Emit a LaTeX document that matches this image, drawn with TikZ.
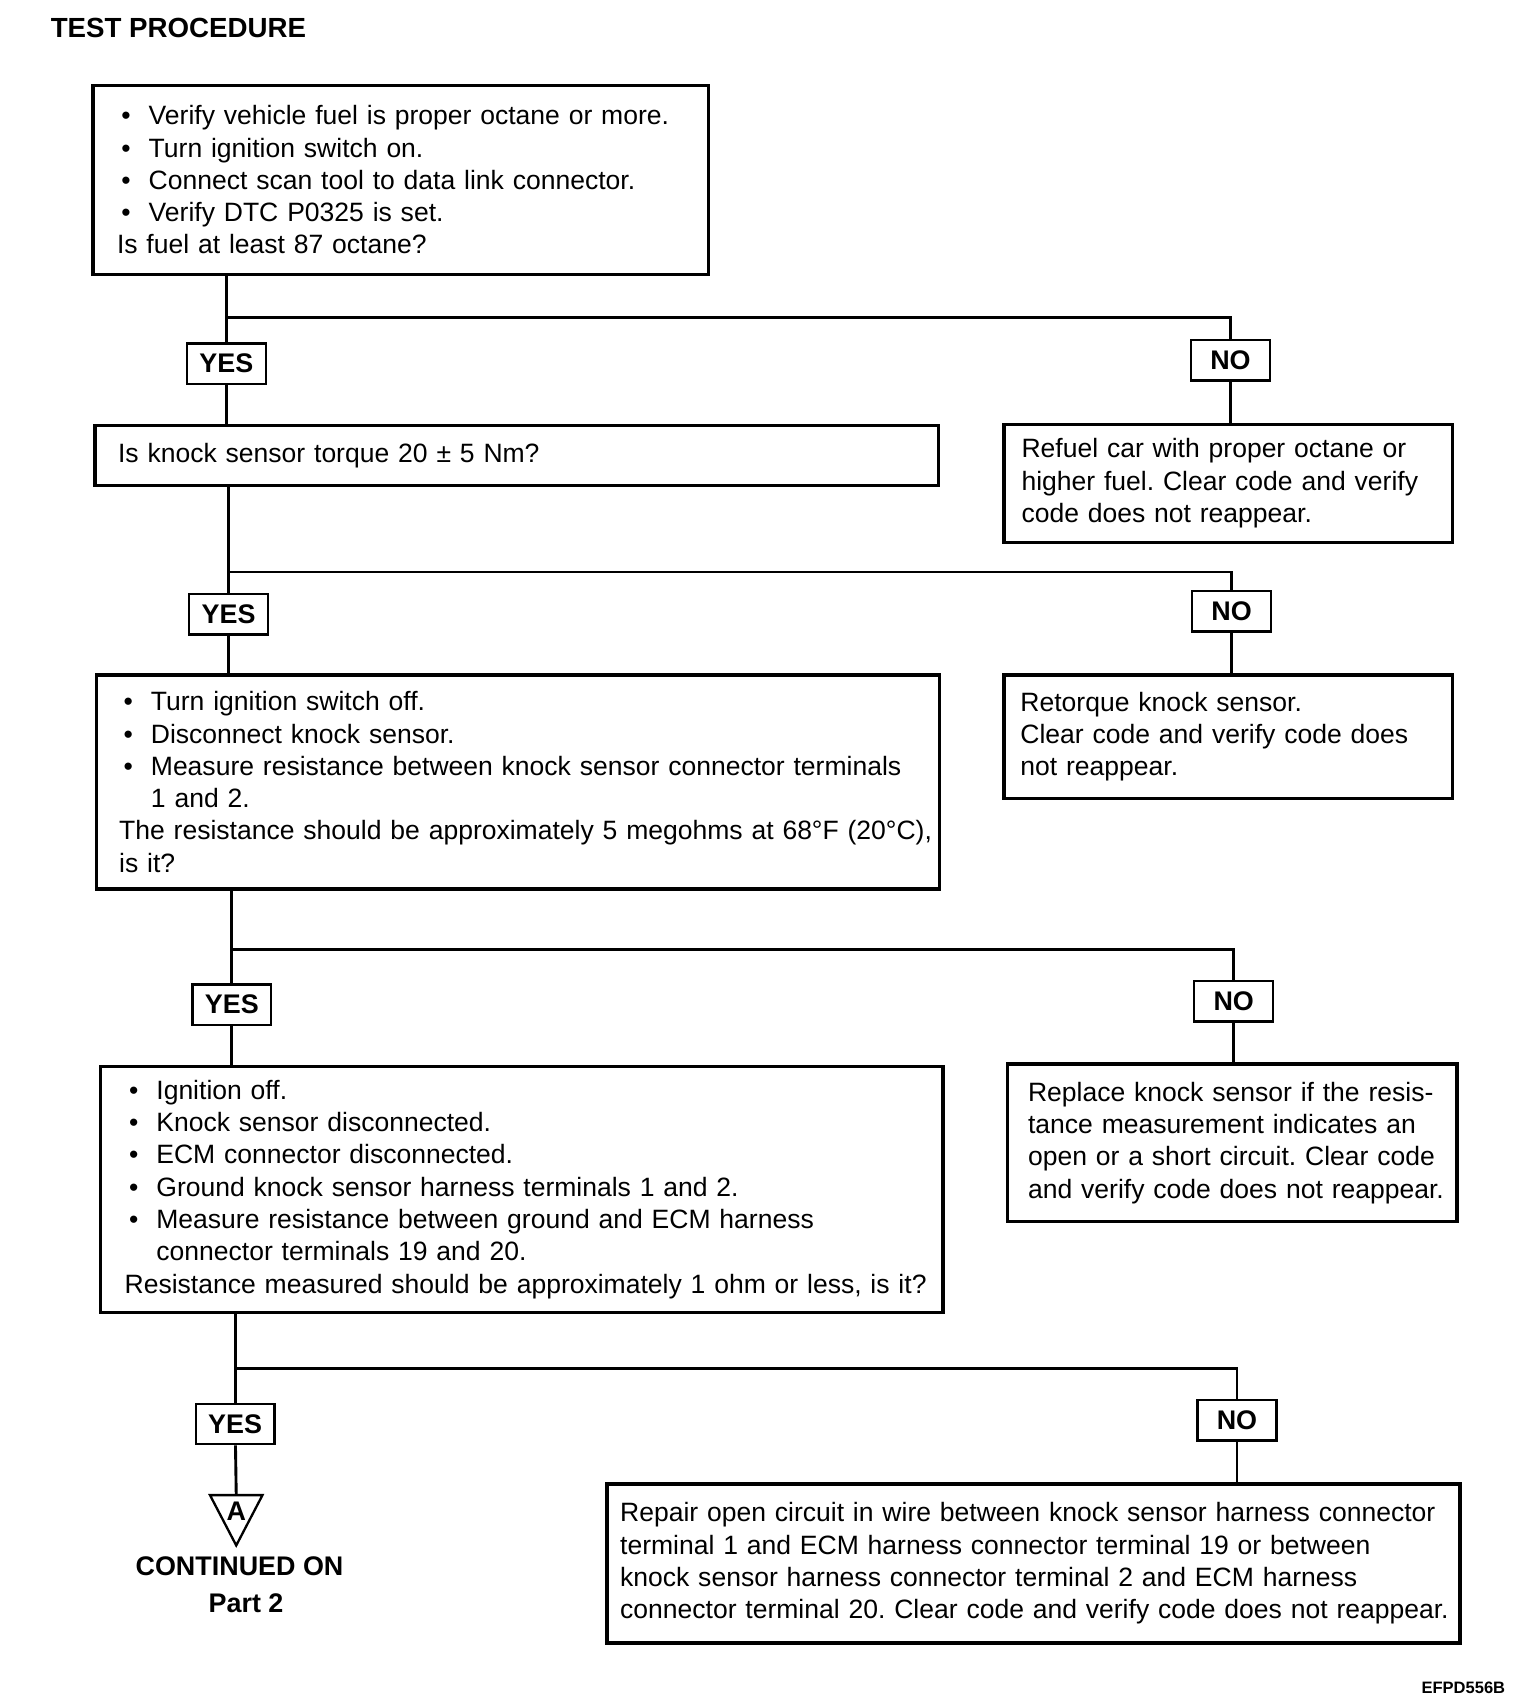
\documentclass[tikz,border=0pt]{standalone}
\usepackage{fontspec}
\setmainfont{Liberation Sans}
\usetikzlibrary{calc}
\frenchspacing
\tikzstyle{check} = [draw, line width=0.9pt, rectangle, inner ysep=0pt, align=left, font=\fontsize{6.9}{8.4}\selectfont]
\tikzstyle{answer} = [draw, line width=0.6pt, rectangle, minimum width=0.72cm, minimum height=0.37cm, inner sep=0pt, font=\bfseries\fontsize{7}{8.4}\selectfont]
\tikzstyle{wire} = [line width=0.75pt]
\newcommand{\bul}{\makebox[0.29cm][l]{\hspace{0.04cm}\textbullet}}
\newcommand{\ind}{\hspace*{0.29cm}}

\begin{document}
\begin{tikzpicture}
    \useasboundingbox (0,0) rectangle (13.9,-15.58);
    \node[anchor=west, font=\bfseries\fontsize{7.2}{8.6}\selectfont] (title) at (0.34,-0.26) {TEST PROCEDURE};
    % questions on the left
    \node[check, minimum width=5.63cm, minimum height=1.73cm, inner xsep=0.22cm, text width=5.19cm] (q1) at (3.665,-1.645)
        {\bul Verify vehicle fuel is proper octane or more.\\ \bul Turn ignition switch on.\\ \bul Connect scan tool to data link connector.\\ \bul Verify DTC P0325 is set.\\ Is fuel at least 87 octane?};
    \node[check, minimum width=7.71cm, minimum height=0.55cm, inner xsep=0.21cm, text width=7.29cm] (q2) at (4.725,-4.165)
        {Is knock sensor torque 20 \textpm{} 5 Nm?};
    \node[check, minimum width=7.71cm, minimum height=1.96cm, inner xsep=0.21cm, text width=7.29cm] (q3) at (4.735,-7.15)
        {\bul Turn ignition switch off.\\ \bul Disconnect knock sensor.\\ \bul \mbox{Measure resistance between knock sensor connector terminals}\\ \ind 1 and 2.\\ \mbox{The resistance should be approximately 5 megohms at 68\textdegree F (20\textdegree C),}\\ is it?};
    \node[check, minimum width=7.70cm, minimum height=2.25cm, inner xsep=0.22cm, text width=7.26cm] (q4) at (4.77,-10.875)
        {\bul Ignition off.\\ \bul Knock sensor disconnected.\\ \bul ECM connector disconnected.\\ \bul Ground knock sensor harness terminals 1 and 2.\\ \bul Measure resistance between ground and ECM harness\\ \ind connector terminals 19 and 20.\\ \mbox{Resistance measured should be approximately 1 ohm or less, is it?}};
    % repairs on the right
    \node[check, minimum width=4.10cm, minimum height=1.08cm, inner xsep=0.16cm, text width=3.78cm] (fix1) at (11.23,-4.42)
        {\mbox{Refuel car with proper octane or}\\ \mbox{higher fuel. Clear code and verify}\\ code does not reappear.};
    \node[check, minimum width=4.10cm, minimum height=1.13cm, inner xsep=0.15cm, text width=3.80cm] (fix2) at (11.23,-6.735)
        {Retorque knock sensor.\\ \mbox{Clear code and verify code does}\\ not reappear.};
    \node[check, minimum width=4.11cm, minimum height=1.44cm, inner xsep=0.19cm, text width=3.73cm] (fix3) at (11.265,-10.45)
        {\mbox{Replace knock sensor if the resis-}\\ \mbox{tance measurement indicates an}\\ \mbox{open or a short circuit. Clear code}\\ \mbox{and verify code does not reappear.}};
    \node[check, minimum width=7.80cm, minimum height=1.45cm, inner xsep=0.12cm, text width=7.56cm] (fix4) at (9.45,-14.295)
        {\mbox{Repair open circuit in wire between knock sensor harness connector}\\ \mbox{terminal 1 and ECM harness connector terminal 19 or between}\\ \mbox{knock sensor harness connector terminal 2 and ECM harness}\\ \mbox{connector terminal 20. Clear code and verify code does not reappear.}};
    % answers
    \node[answer] (yes1) at (2.07,-3.325) {YES};
    \node[answer] (no1) at (11.25,-3.295) {NO};
    \node[answer] (yes2) at (2.09,-5.615) {YES};
    \node[answer] (no2) at (11.26,-5.59) {NO};
    \node[answer] (yes3) at (2.12,-9.185) {YES};
    \node[answer] (no3) at (11.28,-9.155) {NO};
    \node[answer] (yes4) at (2.15,-13.02) {YES};
    \node[answer] (no4) at (11.31,-12.985) {NO};
    \coordinate (j1) at (2.07,-2.90);
    \coordinate (j2) at (2.09,-5.23);
    \coordinate (j3) at (2.12,-8.68);
    \coordinate (j4) at (2.15,-12.51);
    % connectors
    \draw[wire] (q1.south -| yes1) -- (yes1);
    \draw[wire] (j1) -| (no1);
    \draw[wire] (yes1) -- (q2.north -| yes1);
    \draw[wire] (no1) -- (fix1.north -| no1);
    \draw[wire] (q2.south -| yes2) -- (yes2);
    \draw[wire] (j2) -| (no2);
    \draw[wire] (yes2) -- (q3.north -| yes2);
    \draw[wire] (no2) -- (fix2.north -| no2);
    \draw[wire] (q3.south -| yes3) -- (yes3);
    \draw[wire] (j3) -| (no3);
    \draw[wire] (yes3) -- (q4.north -| yes3);
    \draw[wire] (no3) -- (fix3.north -| no3);
    \draw[wire] (q4.south -| yes4) -- (yes4);
    \draw[wire] (j4) -| (no4);
    \draw[wire] (no4) -- (fix4.north -| no4);
    % continuation mark
    \coordinate (tri) at (2.16,-13.67);
    \draw[wire] (yes4) -- (tri);
    \draw[line width=0.6pt] (tri) ++(-0.24,0) -- ++(0.48,0) -- ++(-0.24,-0.46) -- cycle;
    \node[font=\bfseries\fontsize{7}{8.4}\selectfont] (markA) at (2.16,-13.82) {A};
    \node[font=\bfseries\fontsize{7}{8.4}\selectfont] (cont) at (2.19,-14.32) {CONTINUED ON};
    \node[font=\bfseries\fontsize{7}{8.4}\selectfont] (part) at (2.25,-14.66) {Part 2};
    \node[font=\bfseries\fontsize{4.3}{5}\selectfont] (code) at (13.38,-15.43) {EFPD556B};
\end{tikzpicture}
\end{document}
